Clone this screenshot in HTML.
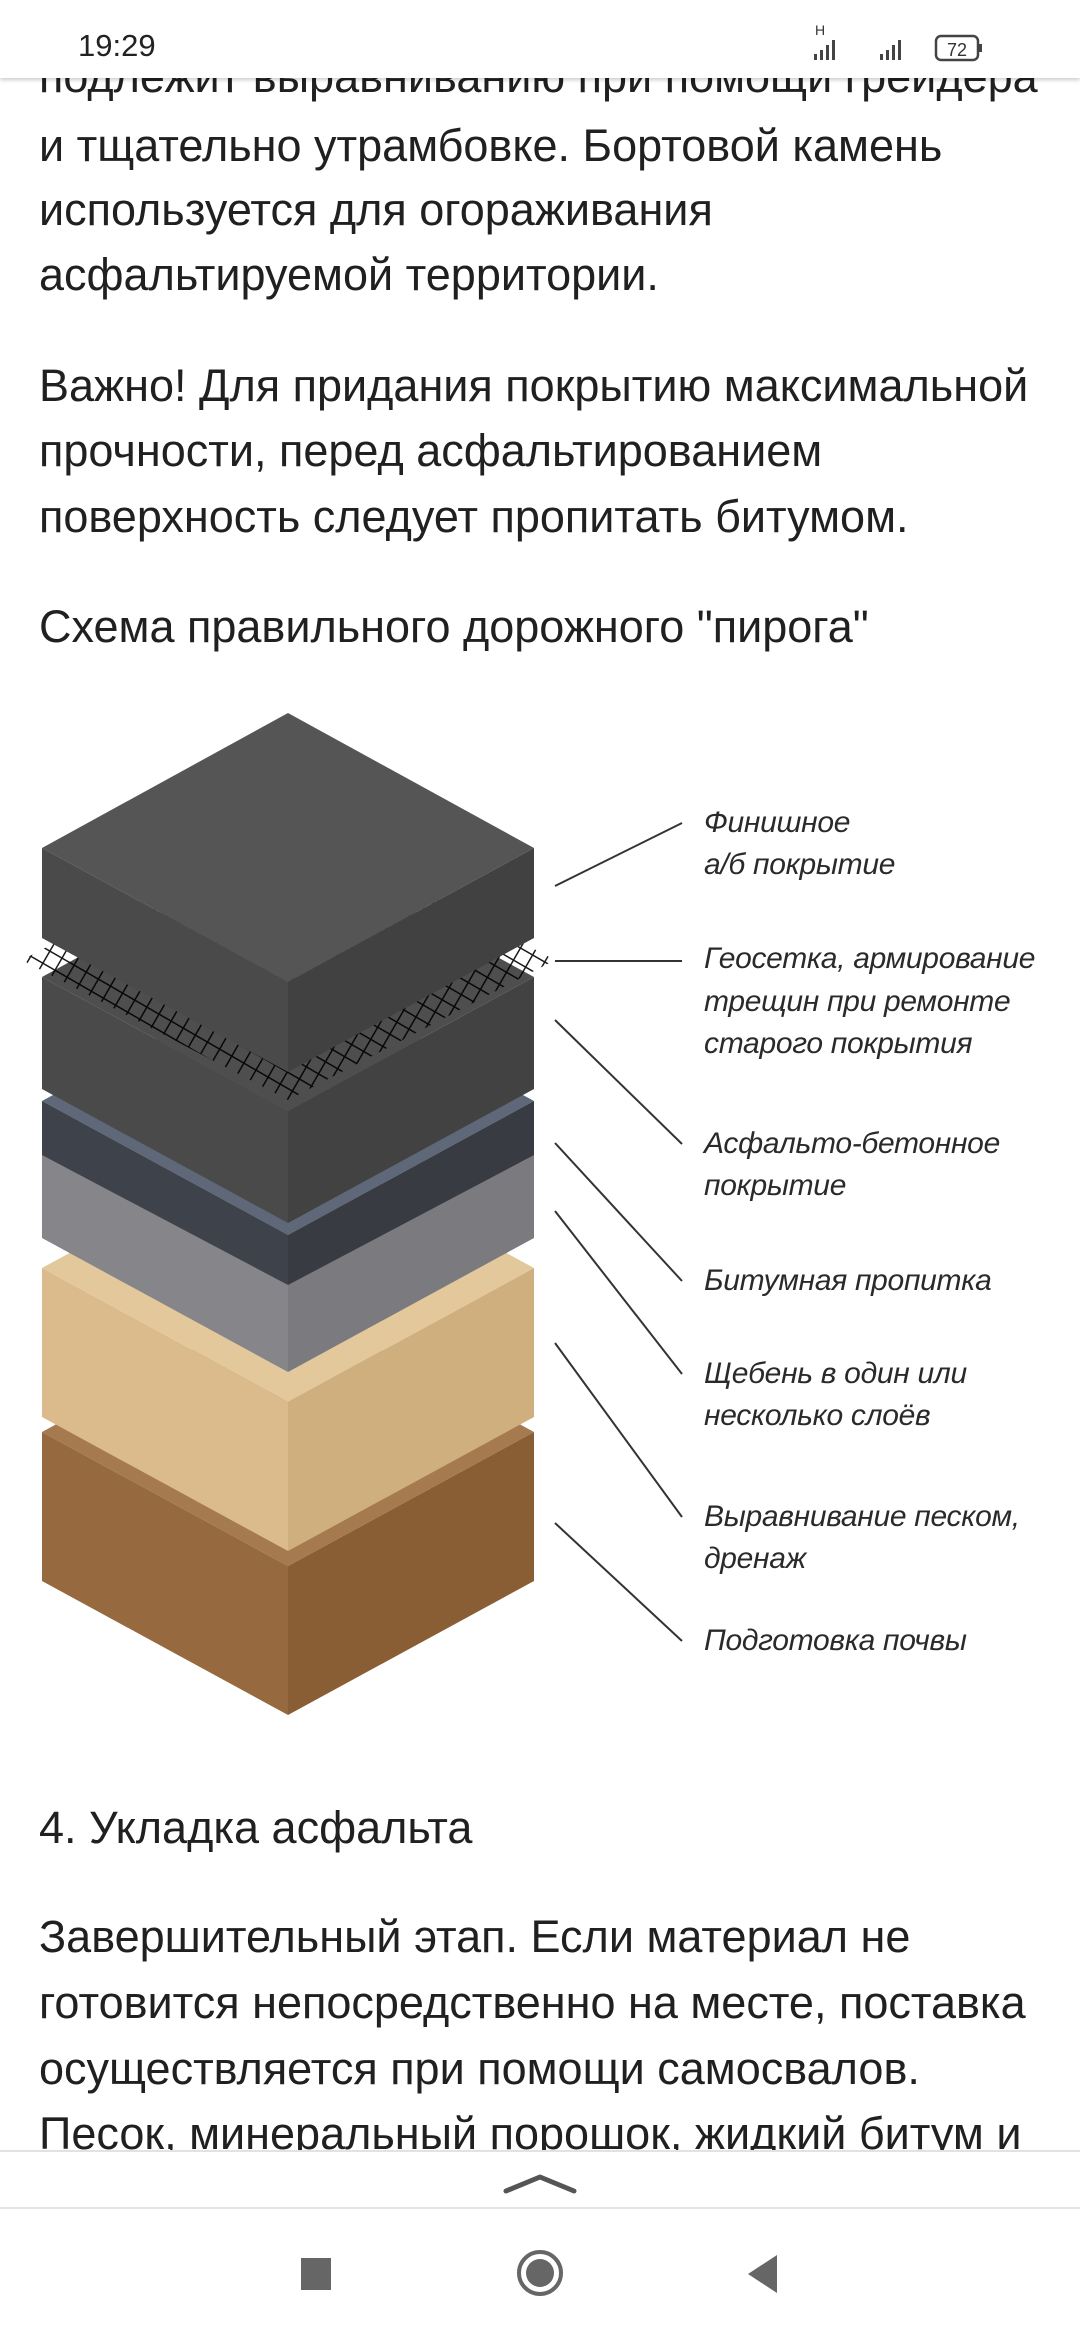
<!DOCTYPE html>
<html><head><meta charset="utf-8">
<style>
html,body{margin:0;padding:0;background:#fff;}
body{width:1080px;height:2340px;position:relative;overflow:hidden;font-family:"Liberation Sans",sans-serif;color:#202020;}
.t{position:absolute;left:39px;font-size:45px;line-height:65px;white-space:nowrap;letter-spacing:0px;}
.lab{position:absolute;left:704px;font-size:30px;line-height:42px;font-style:italic;color:#2a2a2a;white-space:nowrap;letter-spacing:-0.3px;}
.status{position:absolute;left:0;top:0;width:1080px;height:78px;background:#fff;box-shadow:0 2px 4px rgba(0,0,0,0.2);}
</style></head><body>

<div class="t" style="top:44px;">подлежит выравниванию при помощи грейдера</div>
<div class="t" style="top:113px;">и тщательно утрамбовке. Бортовой камень</div>
<div class="t" style="top:177px;">используется для огораживания</div>
<div class="t" style="top:242px;">асфальтируемой территории.</div>
<div class="t" style="top:353px;">Важно! Для придания покрытию максимальной</div>
<div class="t" style="top:418px;">прочности, перед асфальтированием</div>
<div class="t" style="top:484px;">поверхность следует пропитать битумом.</div>
<div class="t" style="top:594px;">Схема правильного дорожного "пирога"</div>

<svg style="position:absolute;left:0;top:0" width="1080" height="2340">
<defs>
<pattern id="mesh" width="14" height="14" patternUnits="userSpaceOnUse" patternTransform="rotate(30)">
<path d="M0 0H14M0 0V14" stroke="#000" stroke-width="3"/>
</pattern>
</defs>
<polygon points="42,1432 288,1566 288,1715 42,1581" fill="#96693f"/>
<polygon points="534,1432 288,1566 288,1715 534,1581" fill="#8a5e35"/>
<polygon points="288,1298 534,1432 288,1566 42,1432" fill="#a47a4e"/>
<polygon points="42,1268 288,1402 288,1551 42,1417" fill="#dbbb8b"/>
<polygon points="534,1268 288,1402 288,1551 534,1417" fill="#cfaf7e"/>
<polygon points="288,1134 534,1268 288,1402 42,1268" fill="#e3c89c"/>
<polygon points="42,1101 288,1235 288,1372 42,1238" fill="#86868a"/>
<polygon points="534,1101 288,1235 288,1372 534,1238" fill="#7b7a7e"/>
<polygon points="42,1101 288,1235 288,1285 42,1155" fill="#3e424a"/>
<polygon points="534,1101 288,1235 288,1285 534,1155" fill="#383b42"/>
<polygon points="288,967 534,1101 288,1235 42,1101" fill="#5f6878"/>
<polygon points="42,977 288,1111 288,1223 42,1089" fill="#4a4a4a"/>
<polygon points="534,977 288,1111 288,1223 534,1089" fill="#424242"/>
<polygon points="288,843 534,977 288,1111 42,977" fill="#4e4e4e"/>
<polygon points="288,820 555,960 288,1100 22,960" fill="url(#mesh)" opacity="0.9"/>
<polygon points="42,848 288,982 288,1072 42,938" fill="#4a4a4a"/>
<polygon points="534,848 288,982 288,1072 534,938" fill="#414141"/>
<polygon points="288,713 534,848 288,982 42,848" fill="#555"/>
<g stroke="#333" stroke-width="2">
<line x1="555" y1="886" x2="682" y2="823"/>
<line x1="555" y1="961" x2="682" y2="961"/>
<line x1="555" y1="1020" x2="682" y2="1144"/>
<line x1="555" y1="1143" x2="682" y2="1281"/>
<line x1="555" y1="1211" x2="682" y2="1374"/>
<line x1="555" y1="1343" x2="682" y2="1517"/>
<line x1="555" y1="1523" x2="682" y2="1641"/>
</g>
</svg>

<div class="lab" style="top:802px;">Финишное</div>
<div class="lab" style="top:844px;">а/б покрытие</div>
<div class="lab" style="top:938px;">Геосетка, армирование</div>
<div class="lab" style="top:981px;">трещин при ремонте</div>
<div class="lab" style="top:1023px;">старого покрытия</div>
<div class="lab" style="top:1123px;">Асфальто-бетонное</div>
<div class="lab" style="top:1165px;">покрытие</div>
<div class="lab" style="top:1260px;">Битумная пропитка</div>
<div class="lab" style="top:1353px;">Щебень в один или</div>
<div class="lab" style="top:1395px;">несколько слоёв</div>
<div class="lab" style="top:1496px;">Выравнивание песком,</div>
<div class="lab" style="top:1538px;">дренаж</div>
<div class="lab" style="top:1620px;">Подготовка почвы</div>

<div class="t" style="top:1795px;">4. Укладка асфальта</div>
<div class="t" style="top:1904px;">Завершительный этап. Если материал не</div>
<div class="t" style="top:1970px;">готовится непосредственно на месте, поставка</div>
<div class="t" style="top:2036px;">осуществляется при помощи самосвалов.</div>
<div class="t" style="top:2101px;">Песок, минеральный порошок, жидкий битум и</div>

<div style="position:absolute;left:0;top:2150px;width:1080px;height:190px;background:#fff;border-top:2px solid #e2e2e2;"></div>
<svg style="position:absolute;left:0;top:2109px" width="1080" height="231">
<polyline points="506,82 540,68 574,82" fill="none" stroke="#555" stroke-width="5" stroke-linecap="round" stroke-linejoin="round"/>
<line x1="0" y1="99" x2="1080" y2="99" stroke="#e4e4e4" stroke-width="2"/>
<rect x="301" y="149" width="30" height="32" fill="#666"/>
<circle cx="540" cy="164" r="21" fill="none" stroke="#666" stroke-width="4"/>
<circle cx="540" cy="164" r="14" fill="#666"/>
<polygon points="777,146 777,184 748,165" fill="#666"/>
</svg>

<div class="status">
<div style="position:absolute;left:78px;top:28px;font-size:31px;color:#222;">19:29</div>
<div style="position:absolute;left:815px;top:22px;font-size:14px;color:#333;">H</div>
<svg style="position:absolute;left:808px;top:30px" width="200" height="36">
<g fill="#444">
<rect x="6" y="24" width="3" height="6"/><rect x="12" y="20" width="3" height="10"/><rect x="18" y="15" width="3" height="15"/><rect x="24" y="10" width="3" height="20"/>
<rect x="72" y="24" width="3" height="6"/><rect x="78" y="20" width="3" height="10"/><rect x="84" y="15" width="3" height="15"/><rect x="90" y="10" width="3" height="20"/>
</g>
<rect x="128" y="6" width="42" height="24" rx="5" fill="none" stroke="#444" stroke-width="2.5"/>
<rect x="171" y="14" width="3" height="8" fill="#444"/>
<text x="149" y="26" font-size="18" text-anchor="middle" fill="#333" font-family="Liberation Sans">72</text>
</svg>
</div>
</body></html>
